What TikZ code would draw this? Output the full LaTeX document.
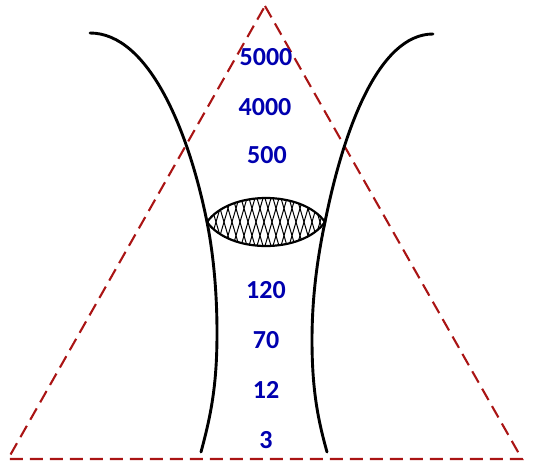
\documentclass[tikz,border=0pt]{standalone}
\usepackage{fontspec}
\setmainfont{Carlito}
\definecolor{numblue}{RGB}{0,0,175}
\definecolor{tridred}{RGB}{170,20,20}

\begin{document}
\begin{tikzpicture}[
  x=0.5pt, y=-0.5pt,
  num/.style={font=\fontsize{13}{15}\selectfont\bfseries, text=numblue, anchor=base, inner sep=0pt},
  wall/.style={line width=1.45pt, black, line cap=round},
  tri/.style={line width=1.05pt, tridred, dash pattern=on 6.5pt off 3.5pt, line join=miter},
  hatch/.style={line width=0.5pt, black},
]
\useasboundingbox (0,0) rectangle (534,467);

% ---- Dreieck
\draw[tri] (265,6) -- (522,459) -- (8,459) -- cycle;

% ---- Wände
\coordinate (lensL) at (207,222);
\coordinate (lensR) at (325,222);
\draw[wall] (90,33) .. controls (149,33) and (189,132) .. (lensL)
  .. controls (213,252) and (217,290) .. (217,333)
  .. controls (217,385) and (211,415) .. (201,452);
\draw[wall] (433,34) .. controls (378,34) and (343,132) .. (lensR)
  .. controls (318,255) and (312,295) .. (312,340)
  .. controls (312,390) and (318,420) .. (327,452);

% ---- Linse mit Schraffur
\begin{scope}
  \clip (lensL) .. controls (230,190) and (302,190) .. (lensR)
    .. controls (302,254) and (230,254) .. (lensL) -- cycle;
  \foreach \x in {150,158,...,390} {
    \draw[hatch] (\x,256) -- ++(20,-68);
    \draw[hatch] (\x,188) -- ++(20,68);
  }
\end{scope}
\draw[line width=1.1pt] (lensL) .. controls (230,190) and (302,190) .. (lensR)
  .. controls (302,254) and (230,254) .. (lensL) -- cycle;

% ---- Zahlen
\node[num] (n5000) at (266,65) {5000};
\node[num] (n4000) at (265,115) {4000};
\node[num] (n500) at (267,163) {500};
\node[num] (n120) at (266,298) {120};
\node[num] (n70) at (266,348) {70};
\node[num] (n12) at (266,398) {12};
\node[num] (n3) at (266,448) {3};
\end{tikzpicture}
\end{document}
